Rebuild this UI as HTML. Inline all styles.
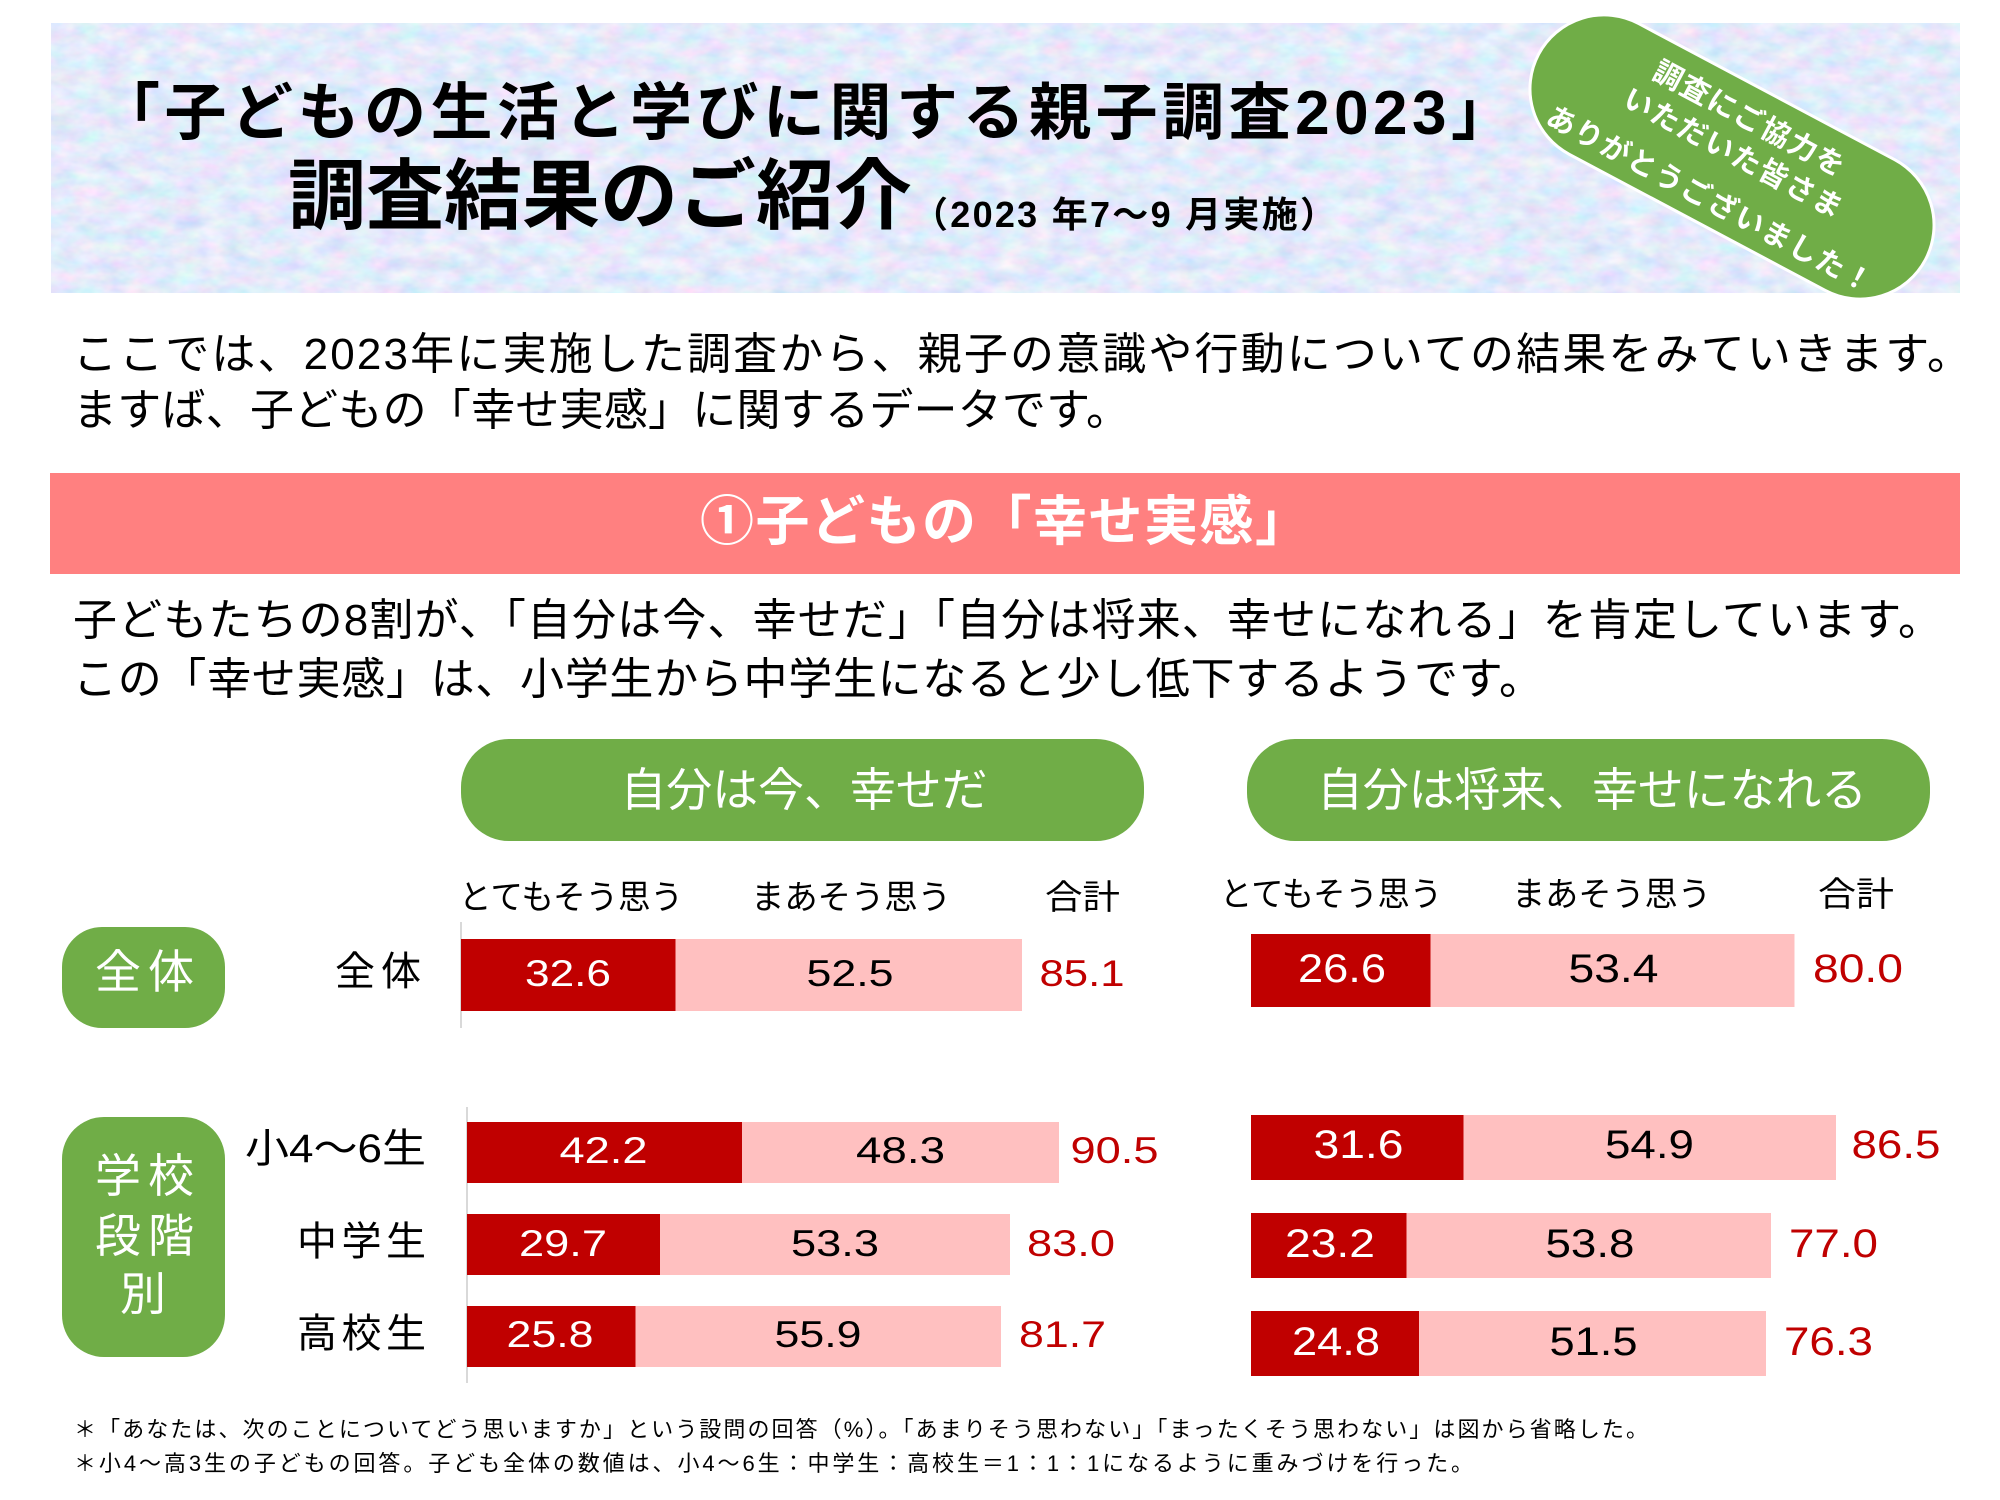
<!DOCTYPE html>
<html>
<head>
<meta charset="utf-8">
<style>
html,body{margin:0;padding:0;background:#fff;}
svg{display:block;}
text{font-family:"Liberation Sans","Noto Sans CJK JP",sans-serif;}
</style>
</head>
<body>
<svg xmlns="http://www.w3.org/2000/svg" width="2000" height="1500" viewBox="0 0 2000 1500">
<defs>
  <filter id="tex" x="0" y="0" width="1" height="1">
    <feTurbulence type="fractalNoise" baseFrequency="0.04 0.07" numOctaves="3" seed="7"/>
    <feColorMatrix type="matrix" values="0.55 0 0 0 0.50  0 0.35 0 0 0.65  0 0 0.18 0 0.87  0 0 0 0 1"/>
  </filter>
</defs>
<rect x="0" y="0" width="2000" height="1500" fill="#ffffff"/>

<!-- Banner -->
<rect x="51" y="23" width="1909" height="270" fill="#c7d3f2"/>
<rect x="51" y="23" width="1909" height="270" fill="#c7d3f2" filter="url(#tex)"/>

<text x="98" y="134" font-size="62" font-weight="bold" fill="#000" textLength="1415" lengthAdjust="spacing">「子どもの生活と学びに関する親子調査2023」</text>
<text x="288" y="223" font-size="77" font-weight="bold" fill="#000" textLength="624" lengthAdjust="spacingAndGlyphs">調査結果のご紹介</text>
<text x="912" y="227" font-size="36" font-weight="bold" fill="#000" textLength="424" lengthAdjust="spacing">（2023 年7～9 月実施）</text>

<!-- Thanks pill -->
<g transform="translate(1732,157) rotate(28)">
  <rect x="-219" y="-74" width="438" height="148" rx="74" ry="74" fill="#70AD47" stroke="#ffffff" stroke-width="3"/>
  <text x="-3" y="-32" font-size="29" font-weight="bold" fill="#fff" text-anchor="middle" textLength="212" lengthAdjust="spacing">調査にご協力を</text>
  <text x="-1" y="6" font-size="29" font-weight="bold" fill="#fff" text-anchor="middle" textLength="243" lengthAdjust="spacing">いただいた皆さま</text>
  <text x="0" y="58" font-size="29" font-weight="bold" fill="#fff" text-anchor="middle" textLength="364" lengthAdjust="spacing">ありがとうございました！</text>
</g>

<!-- Intro paragraph -->
<text x="73" y="369" font-size="44" fill="#000" textLength="1898" lengthAdjust="spacing">ここでは、2023年に実施した調査から、親子の意識や行動についての結果をみていきます。</text>
<text x="73" y="425" font-size="44" fill="#000" textLength="1057" lengthAdjust="spacing">ますば、子どもの「幸せ実感」に関するデータです。</text>

<!-- Pink section header -->
<rect x="50" y="473" width="1910" height="101" fill="#FF8080"/>
<text x="700" y="540" font-size="54" font-weight="bold" fill="#fff" textLength="609" lengthAdjust="spacing">①子どもの「幸せ実感」</text>

<!-- Paragraph 2 -->
<text x="73" y="635" font-size="44" fill="#000" textLength="1869" lengthAdjust="spacing">子どもたちの8割が、「自分は今、幸せだ」「自分は将来、幸せになれる」を肯定しています。</text>
<text x="73" y="694" font-size="44" fill="#000" textLength="1470" lengthAdjust="spacing">この「幸せ実感」は、小学生から中学生になると少し低下するようです。</text>

<!-- Green chart headers -->
<rect x="461" y="739" width="683" height="102" rx="48" ry="48" fill="#70AD47"/>
<text x="804" y="806" font-size="46" fill="#fff" text-anchor="middle" textLength="367" lengthAdjust="spacingAndGlyphs">自分は今、幸せだ</text>
<rect x="1247" y="739" width="683" height="102" rx="48" ry="48" fill="#70AD47"/>
<text x="1592" y="806" font-size="46" fill="#fff" text-anchor="middle" textLength="550" lengthAdjust="spacingAndGlyphs">自分は将来、幸せになれる</text>

<!-- Column headers -->
<text x="459" y="909" font-size="34" fill="#000" textLength="224" lengthAdjust="spacingAndGlyphs">とてもそう思う</text>
<text x="751" y="909" font-size="34" fill="#000" textLength="200" lengthAdjust="spacingAndGlyphs">まあそう思う</text>
<text x="1045" y="909" font-size="34" fill="#000" textLength="75" lengthAdjust="spacingAndGlyphs">合計</text>
<text x="1220" y="906" font-size="34" fill="#000" textLength="222" lengthAdjust="spacingAndGlyphs">とてもそう思う</text>
<text x="1512" y="906" font-size="34" fill="#000" textLength="199" lengthAdjust="spacingAndGlyphs">まあそう思う</text>
<text x="1818" y="906" font-size="34" fill="#000" textLength="76" lengthAdjust="spacingAndGlyphs">合計</text>

<!-- Left category boxes -->
<rect x="62" y="927" width="163" height="101" rx="40" ry="40" fill="#70AD47"/>
<text x="95" y="988" font-size="46" fill="#fff" textLength="99" lengthAdjust="spacing">全体</text>
<rect x="62" y="1117" width="163" height="240" rx="42" ry="42" fill="#70AD47"/>
<text x="95" y="1192" font-size="46" fill="#fff" textLength="99" lengthAdjust="spacing">学校</text>
<text x="95" y="1252" font-size="46" fill="#fff" textLength="99" lengthAdjust="spacing">段階</text>
<text x="143" y="1310" font-size="46" fill="#fff" text-anchor="middle">別</text>

<!-- Row labels -->
<text x="335" y="985" font-size="40" fill="#000" textLength="86" lengthAdjust="spacing">全体</text>
<text x="245" y="1162" font-size="40" fill="#000" textLength="181" lengthAdjust="spacingAndGlyphs">小4～6生</text>
<text x="297" y="1255" font-size="40" fill="#000" textLength="129" lengthAdjust="spacing">中学生</text>
<text x="297" y="1347" font-size="40" fill="#000" textLength="129" lengthAdjust="spacing">高校生</text>

<!-- Left axis lines -->
<line x1="461" y1="922" x2="461" y2="1028" stroke="#D9D9D9" stroke-width="2"/>
<line x1="467" y1="1107" x2="467" y2="1383" stroke="#D9D9D9" stroke-width="2"/>

<!-- Left bars -->
<rect x="461" y="939" width="214.5" height="72" fill="#C00000"/>
<rect x="675.5" y="939" width="346.5" height="72" fill="#FFC0C0"/>
<rect x="467" y="1122" width="275" height="61" fill="#C00000"/>
<rect x="742" y="1122" width="317" height="61" fill="#FFC0C0"/>
<rect x="467" y="1214" width="193" height="61" fill="#C00000"/>
<rect x="660" y="1214" width="350" height="61" fill="#FFC0C0"/>
<rect x="467" y="1306" width="168.5" height="61" fill="#C00000"/>
<rect x="635.5" y="1306" width="365.5" height="61" fill="#FFC0C0"/>

<!-- Left values -->
<g font-size="37" text-anchor="middle">
  <text x="568" y="986" fill="#fff" textLength="86" lengthAdjust="spacingAndGlyphs">32.6</text>
  <text x="850" y="986" fill="#000" textLength="87" lengthAdjust="spacingAndGlyphs">52.5</text>
  <text x="1082" y="986" fill="#C00000" textLength="85" lengthAdjust="spacingAndGlyphs">85.1</text>
  <text x="603.5" y="1163" fill="#fff" textLength="88" lengthAdjust="spacingAndGlyphs">42.2</text>
  <text x="900.5" y="1163" fill="#000" textLength="89" lengthAdjust="spacingAndGlyphs">48.3</text>
  <text x="1114.5" y="1163" fill="#C00000" textLength="88" lengthAdjust="spacingAndGlyphs">90.5</text>
  <text x="563" y="1256" fill="#fff" textLength="88" lengthAdjust="spacingAndGlyphs">29.7</text>
  <text x="835" y="1256" fill="#000" textLength="88" lengthAdjust="spacingAndGlyphs">53.3</text>
  <text x="1071" y="1256" fill="#C00000" textLength="88" lengthAdjust="spacingAndGlyphs">83.0</text>
  <text x="550" y="1347" fill="#fff" textLength="87" lengthAdjust="spacingAndGlyphs">25.8</text>
  <text x="818" y="1347" fill="#000" textLength="87" lengthAdjust="spacingAndGlyphs">55.9</text>
  <text x="1062.5" y="1347" fill="#C00000" textLength="87" lengthAdjust="spacingAndGlyphs">81.7</text>
</g>

<!-- Right bars -->
<rect x="1251" y="934" width="179.5" height="73" fill="#C00000"/>
<rect x="1430.5" y="934" width="364" height="73" fill="#FFC0C0"/>
<rect x="1251" y="1115" width="212.5" height="65" fill="#C00000"/>
<rect x="1463.5" y="1115" width="372.5" height="65" fill="#FFC0C0"/>
<rect x="1251" y="1213" width="155.5" height="65" fill="#C00000"/>
<rect x="1406.5" y="1213" width="364.5" height="65" fill="#FFC0C0"/>
<rect x="1251" y="1311" width="168" height="65" fill="#C00000"/>
<rect x="1419" y="1311" width="347" height="65" fill="#FFC0C0"/>

<!-- Right values -->
<g font-size="40" text-anchor="middle">
  <text x="1342" y="982" fill="#fff" textLength="88" lengthAdjust="spacingAndGlyphs">26.6</text>
  <text x="1613.5" y="982" fill="#000" textLength="90" lengthAdjust="spacingAndGlyphs">53.4</text>
  <text x="1858" y="982" fill="#C00000" textLength="90" lengthAdjust="spacingAndGlyphs">80.0</text>
  <text x="1358.5" y="1158" fill="#fff" textLength="90" lengthAdjust="spacingAndGlyphs">31.6</text>
  <text x="1649.5" y="1158" fill="#000" textLength="89" lengthAdjust="spacingAndGlyphs">54.9</text>
  <text x="1896" y="1158" fill="#C00000" textLength="89" lengthAdjust="spacingAndGlyphs">86.5</text>
  <text x="1330" y="1257" fill="#fff" textLength="90" lengthAdjust="spacingAndGlyphs">23.2</text>
  <text x="1590" y="1257" fill="#000" textLength="89" lengthAdjust="spacingAndGlyphs">53.8</text>
  <text x="1833.5" y="1257" fill="#C00000" textLength="89" lengthAdjust="spacingAndGlyphs">77.0</text>
  <text x="1336" y="1355" fill="#fff" textLength="88" lengthAdjust="spacingAndGlyphs">24.8</text>
  <text x="1593.5" y="1355" fill="#000" textLength="88" lengthAdjust="spacingAndGlyphs">51.5</text>
  <text x="1828.5" y="1355" fill="#C00000" textLength="89" lengthAdjust="spacingAndGlyphs">76.3</text>
</g>

<!-- Footnotes -->
<text x="74" y="1437" font-size="22" fill="#000" textLength="1574" lengthAdjust="spacing">＊「あなたは、次のことについてどう思いますか」という設問の回答（%）。「あまりそう思わない」「まったくそう思わない」は図から省略した。</text>
<text x="74" y="1471" font-size="22" fill="#000" textLength="1399" lengthAdjust="spacing">＊小4～高3生の子どもの回答。子ども全体の数値は、小4～6生：中学生：高校生＝1：1：1になるように重みづけを行った。</text>
</svg>
</body>
</html>
